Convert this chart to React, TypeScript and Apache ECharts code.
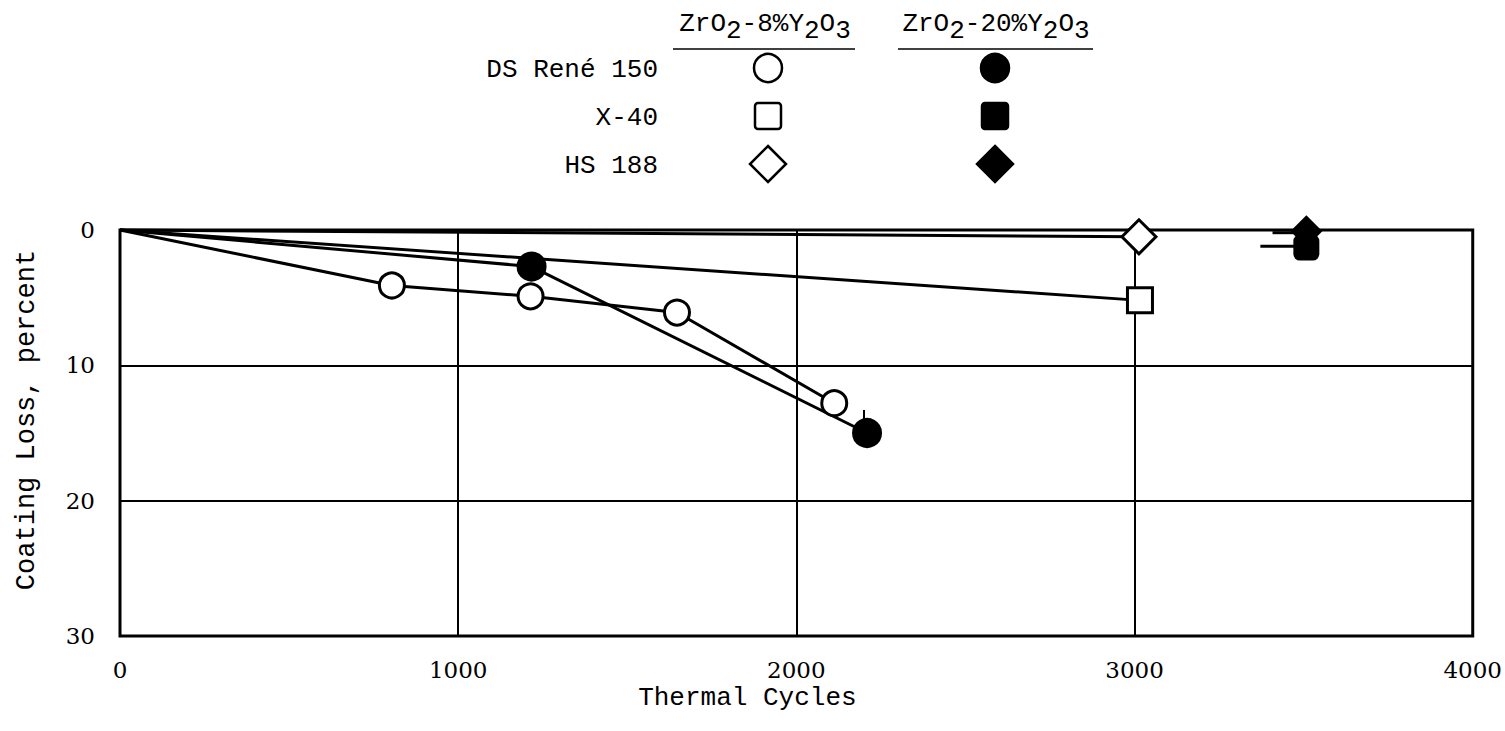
import React, { useEffect, useRef } from "react";
import * as echarts from "echarts";

// Thermal cycles (x) vs coating loss in percent (y)
const reneY8: number[][] = [[0, 0], [804, 4.1], [1214, 4.9], [1647, 6.1], [2112, 12.8]];
const reneY20: number[][] = [[0, 0], [1217, 2.7], [2209, 15.0]];
const x40Y8: number[][] = [[0, 0], [3016, 5.2]];
const hs188Y8: number[][] = [[0, 0], [3013, 0.5]];
const x40Y20: number[][] = [[3508, 1.3]];
const hs188Y20: number[][] = [[3508, 0.1]];
const x40Arrow: number[][] = [[3372, 1.2], [3490, 1.2]];
const hs188Arrow: number[][] = [[3408, 0.2], [3490, 0.2]];
const reneY20Tick: number[][] = [[2200, 13.3], [2200, 14.0]];

const rowLabels = ["DS René 150", "X-40", "HS 188"];
const colHeaders = [
  "{n|ZrO}{s|2}{n|-8%Y}{s|2}{n|O}{s|3}",
  "{n|ZrO}{s|2}{n|-20%Y}{s|2}{n|O}{s|3}",
];

const MONO = "Liberation Mono";
const SERIF = "DejaVu Serif";

export default function App() {
  const ref = useRef<HTMLDivElement>(null);

  useEffect(() => {
    if (!ref.current) return;
    const chart = echarts.init(ref.current, undefined, { renderer: "svg" });

    const lineSeries = (name: string, data: number[][], symbol: string, size: number | number[], filled: boolean) => ({
      name,
      type: "line",
      data: data.map((p, i) => (i === 0 && p[0] === 0 ? { value: p, symbol: "none" } : p)),
      symbol,
      symbolSize: size,
      showSymbol: true,
      showAllSymbol: true,
      clip: false,
      silent: true,
      lineStyle: { color: "#000", width: 3 },
      itemStyle: { color: filled ? "#000" : "#fff", borderColor: "#000", borderWidth: 3, opacity: 1 },
      emphasis: { disabled: true },
    });
    const plainLine = (name: string, data: number[][], width: number) => ({
      name,
      type: "line",
      data,
      symbol: "none",
      clip: false,
      silent: true,
      lineStyle: { color: "#000", width },
      emphasis: { disabled: true },
    });
    const scatter = (name: string, data: number[][], symbol: string, size: number | number[]) => ({
      name,
      type: "scatter",
      data,
      symbol,
      symbolSize: size,
      clip: false,
      silent: true,
      itemStyle: { color: "#000", opacity: 1 },
      emphasis: { disabled: true },
    });

    const graphic: any[] = [];
    const colX = [765, 996];
    const rowY = [68, 116, 164];
    colHeaders.forEach((h, i) => {
      graphic.push({
        type: "text",
        x: colX[i],
        y: 24,
        style: {
          text: h,
          align: "center",
          verticalAlign: "middle",
          fill: "#000",
          rich: {
            n: { fontFamily: MONO, fontSize: 26, fill: "#000" },
            s: { fontFamily: MONO, fontSize: 26, fill: "#000", padding: [14, 0, 0, 0] },
          },
        },
      });
    });
    graphic.push({ type: "line", shape: { x1: 673, y1: 49, x2: 855, y2: 49 }, style: { stroke: "#000", lineWidth: 1.5 } });
    graphic.push({ type: "line", shape: { x1: 898, y1: 49, x2: 1093, y2: 49 }, style: { stroke: "#000", lineWidth: 1.5 } });
    rowLabels.forEach((t, i) => {
      graphic.push({
        type: "text",
        x: 658,
        y: rowY[i] + 2,
        style: { text: t, align: "right", verticalAlign: "middle", fontFamily: MONO, fontSize: 26, fill: "#000" },
      });
    });
    [0, 1].forEach((c) => {
      const cx = colX[c] + (c === 0 ? 3 : -1);
      const fill = c === 0 ? "#fff" : "#000";
      graphic.push({ type: "circle", shape: { cx, cy: rowY[0], r: 14 }, style: { fill, stroke: "#000", lineWidth: 2.5 } });
      graphic.push({ type: "rect", shape: { x: cx - 13, y: rowY[1] - 13, width: 26, height: 26, r: 3 }, style: { fill, stroke: "#000", lineWidth: 2.5 } });
      graphic.push({
        type: "polygon",
        shape: { points: [[cx, rowY[2] - 18], [cx + 18, rowY[2]], [cx, rowY[2] + 18], [cx - 18, rowY[2]]] },
        style: { fill, stroke: "#000", lineWidth: 2.5 },
      });
    });

    chart.setOption({
      animation: false,
      backgroundColor: "#fff",
      grid: { left: 120, top: 230, width: 1358, height: 406, show: true, borderColor: "#000", borderWidth: 3, backgroundColor: "transparent" },
      xAxis: {
        type: "value",
        min: 0,
        max: 4000,
        interval: 1000,
        axisLine: { show: false },
        axisTick: { show: false },
        splitLine: { show: true, lineStyle: { color: "#000", width: 2 } },
        axisLabel: { margin: 22, fontFamily: SERIF, fontSize: 23, color: "#000", formatter: (v: number) => String(v) },
        name: "Thermal Cycles",
        nameLocation: "middle",
        nameGap: 49,
        nameMoveOverlap: false,
        nameTextStyle: { fontFamily: MONO, fontSize: 26, color: "#000", padding: [0, 98, 0, 0] },
      },
      yAxis: {
        type: "value",
        inverse: true,
        min: 0,
        max: 30,
        interval: 10,
        axisLine: { show: false },
        axisTick: { show: false },
        splitLine: { show: true, lineStyle: { color: "#000", width: 2 } },
        axisLabel: { margin: 25, fontFamily: SERIF, fontSize: 23, color: "#000", formatter: (v: number) => String(v) },
        name: "Coating Loss, percent",
        nameLocation: "middle",
        nameGap: 80,
        nameRotate: 90,
        nameMoveOverlap: false,
        nameTextStyle: { fontFamily: MONO, fontSize: 27, color: "#000", padding: [0, 0, 0, 26] },
      },
      series: [
        lineSeries("HS 188, ZrO2-8%Y2O3", hs188Y8, "diamond", 34, false),
        lineSeries("X-40, ZrO2-8%Y2O3", x40Y8, "rect", 25, false),
        lineSeries("DS René 150, ZrO2-20%Y2O3", reneY20, "circle", 27, true),
        lineSeries("DS René 150, ZrO2-8%Y2O3", reneY8, "circle", 25, false),
        plainLine("DS René 150 marker", reneY20Tick, 2),
        plainLine("X-40 arrow", x40Arrow, 3),
        plainLine("HS 188 arrow", hs188Arrow, 3),
        scatter("X-40, ZrO2-20%Y2O3", x40Y20, "roundRect", 26),
        scatter("HS 188, ZrO2-20%Y2O3", hs188Y20, "diamond", 32),
      ],
      graphic,
    });

    return () => chart.dispose();
  }, []);

  return <div ref={ref} style={{ position: "fixed", left: 0, top: 0, width: 1505, height: 731, background: "#fff" }} />;
}
